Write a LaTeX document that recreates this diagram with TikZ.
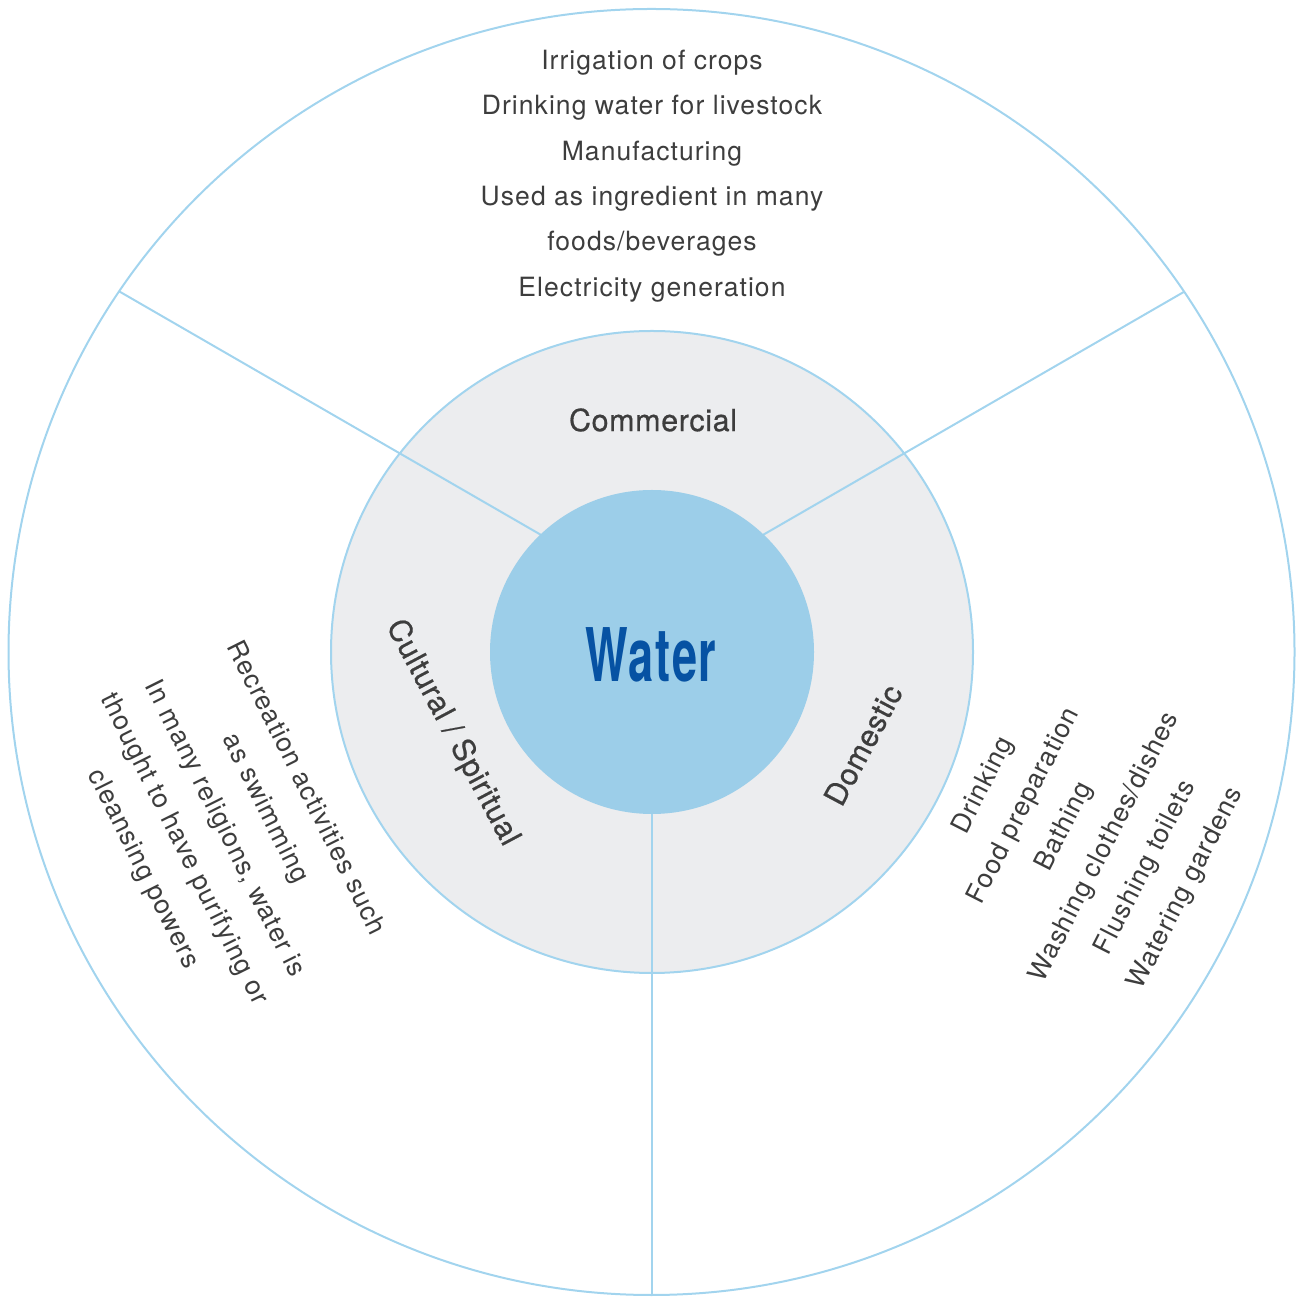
\documentclass[tikz,border=0pt]{standalone}
\usepackage{fontspec}
\setmainfont{TeX Gyre Heros}[LetterSpace=4]
\newfontfamily\medfont{TeX Gyre Heros}[LetterSpace=2,FakeBold=0.6]
\definecolor{ring}{HTML}{A2D4EE}
\definecolor{midfill}{HTML}{ECEDEF}
\definecolor{corefill}{HTML}{9CCEE9}
\definecolor{watertext}{HTML}{0652A3}
\definecolor{txt}{HTML}{3D3D3D}
\begin{document}
\begin{tikzpicture}[x=1pt,y=1pt,
  listtext/.style={text=txt, font=\fontsize{26.5}{45.4}\selectfont, align=center, inner sep=0pt},
  sectorlabel/.style={text=txt, font=\medfont\fontsize{30.5}{36}\selectfont, inner sep=0pt},
  divider/.style={draw=ring, line width=2pt},
  ringline/.style={draw=ring, line width=2pt}]
\useasboundingbox (0,0) rectangle (1298,1296);
\coordinate (C) at (651.5,644);
\coordinate (J) at (652,697);
\node[circle, fill=midfill, minimum size=642, inner sep=0pt] (mid) at (652,644) {};
\begin{scope}
\clip (C) circle (643);
\draw[divider] (J) -- ++(150:800) coordinate (eL);
\draw[divider] (J) -- ++(30:800) coordinate (eR);
\draw[divider] (J) -- ++(270:800) coordinate (eB);
\end{scope}
\node[circle, ringline, minimum size=1286, inner sep=0pt] (outer) at (C) {};
\node[circle, ringline, minimum size=642, inner sep=0pt] (midring) at (652,644) {};
\node[circle, fill=corefill, minimum size=324, inner sep=0pt] (core) at (652,644) {};
\node[text=watertext, font=\bfseries\fontsize{74}{80}\selectfont, inner sep=0pt] (water) at (651,641) {\scalebox{0.61}[1]{Water}};
\node[sectorlabel] (commercial) at (653,876) {Commercial};
\node[sectorlabel, rotate=-62] (cultural) at (452,563) {Cultural / Spiritual};
\node[sectorlabel, rotate=62] (domestic) at (863,551) {Domestic};
\node[listtext] (commlist) at (652,1120) {Irrigation of crops\\Drinking water for livestock\\Manufacturing\\Used as ingredient in many\\foods/beverages\\Electricity generation};
\node[listtext, rotate=63] (domlist) at (1085,459) {Drinking\\Food preparation\\Bathing\\Washing clothes/dishes\\Flushing toilets\\Watering gardens};
\node[listtext, rotate=-63.5] (cultlist) at (224,467) {Recreation activities such\\as swimming\\In many religions, water is\\thought to have purifying or\\cleansing powers};
\end{tikzpicture}
\end{document}
